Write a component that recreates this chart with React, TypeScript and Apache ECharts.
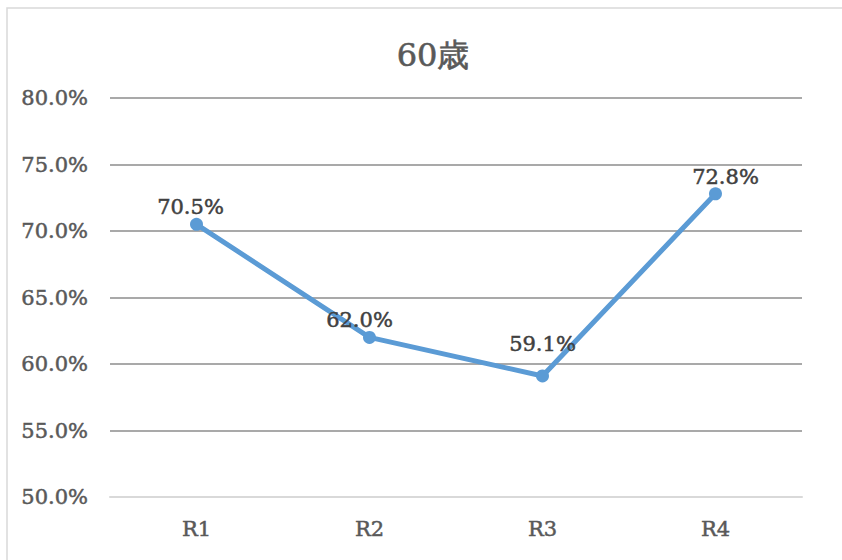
import React, { useEffect, useRef } from "react";
import * as echarts from "echarts";

const categories = ["R1", "R2", "R3", "R4"];
const values = [70.5, 62.0, 59.1, 72.8];
const labelOffsets: [number, number][] = [[-6, 0], [-10, 0], [0, -15], [10, 0]];
const yMin = 50;
const yMax = 80;
const yStep = 5;
const titleText = "60歳";

const serif = "DejaVu Serif";

export default function App() {
  const ref = useRef<HTMLDivElement>(null);

  useEffect(() => {
    if (!ref.current) return;
    const chart = echarts.init(ref.current, undefined, { renderer: "svg" });
    chart.setOption({
      animation: false,
      backgroundColor: "#ffffff",
      title: {
        text: titleText,
        left: 428,
        top: 34,
        textAlign: "center",
        textStyle: {
          fontFamily: serif,
          fontSize: 32,
          fontWeight: "normal",
          color: "#595959",
          textBorderColor: "#595959",
          textBorderWidth: 0.6,
        },
      },
      graphic: [
        {
          type: "rect",
          shape: { x: 7, y: 8, width: 900, height: 700 },
          style: { fill: "none", stroke: "#d9d9d9", lineWidth: 1.5 },
          silent: true,
          z: -1,
        },
      ],
      grid: { left: 110, right: 40, top: 98, bottom: 63, containLabel: false },
      xAxis: {
        type: "category",
        data: categories,
        boundaryGap: true,
        axisLine: { show: true, lineStyle: { color: "#d9d9d9", width: 2 } },
        axisTick: { show: false },
        axisLabel: {
          margin: 21,
          fontFamily: serif,
          fontSize: 21,
          color: "#595959",
          textBorderColor: "#595959",
          textBorderWidth: 0.5,
        },
      },
      yAxis: {
        type: "value",
        min: yMin,
        max: yMax,
        interval: yStep,
        axisLine: { show: false },
        axisTick: { show: false },
        splitLine: { lineStyle: { color: "#8c8c8c", width: 1.5 } },
        axisLabel: {
          margin: 22,
          fontFamily: serif,
          fontSize: 21,
          color: "#595959",
          textBorderColor: "#595959",
          textBorderWidth: 0.5,
          formatter: (v: number) => v.toFixed(1) + "%",
        },
      },
      series: [
        {
          type: "line",
          data: values.map((v, i) => ({
            value: v,
            label: { offset: labelOffsets[i] },
          })),
          lineStyle: { color: "#5b9bd5", width: 5 },
          itemStyle: { color: "#5b9bd5" },
          symbol: "circle",
          symbolSize: 13,
          label: {
            show: true,
            position: "top",
            distance: 0,
            fontFamily: serif,
            fontSize: 21,
            color: "#404040",
            textBorderColor: "#404040",
            textBorderWidth: 0.5,
            formatter: (p: any) => Number(p.value).toFixed(1) + "%",
          },
        },
      ],
    });
    return () => chart.dispose();
  }, []);

  return (
    <div
      ref={ref}
      style={{ position: "fixed", left: 0, top: 0, width: 842, height: 560 }}
    />
  );
}
